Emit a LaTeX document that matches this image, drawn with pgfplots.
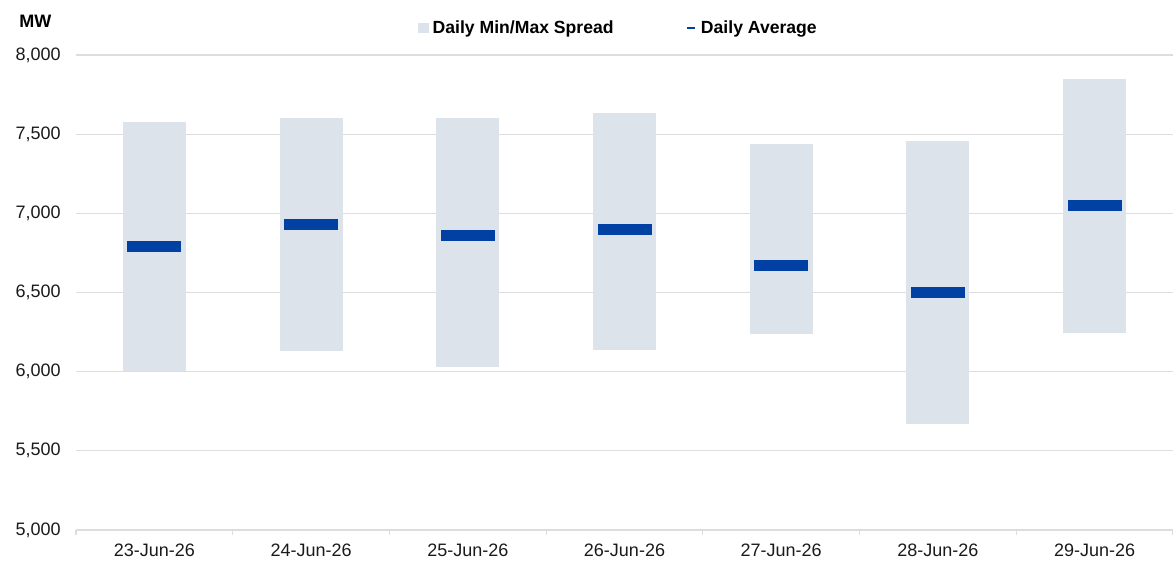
\documentclass[border=0pt]{standalone}
\usepackage{pgfplots}
\pgfplotsset{compat=1.18}
\usepackage{pgfplotstable}
\usepackage{fontspec}
\setmainfont{Liberation Sans}
\definecolor{spreadfill}{HTML}{DCE3EA}
\definecolor{avgblue}{HTML}{0041A3}
\definecolor{gridgray}{HTML}{DDDDDD}
\definecolor{ticktext}{HTML}{1A1A1A}

\pgfplotstableread{
x min max avg
0 6002 7576 6789
1 6132 7603 6928
2 6031 7603 6858
3 6137 7635 6896
4 6239 7441 6669
5 5668 7460 6500
6 6244 7851 7049
}\datatable

\begin{document}
\begin{tikzpicture}[font=\fontsize{13.5}{16}\selectfont]
\begin{axis}[
  scale only axis,
  width=822.75pt, height=356.25pt,
  xmin=-0.5, xmax=6.5,
  ymin=5000, ymax=8000,
  ytick={5000,5500,...,8000},
  xtick={0,...,6},
  xticklabels={23-Jun-26,24-Jun-26,25-Jun-26,26-Jun-26,27-Jun-26,28-Jun-26,29-Jun-26},
  minor xtick={-0.5,0.5,...,6.5},
  axis x line*=bottom,
  axis y line*=left,
  x axis line style={draw=gridgray, line width=0.9pt},
  y axis line style={draw=none},
  ymajorgrids,
  grid style={draw=gridgray, line width=0.9pt},
  major tick length=0pt,
  minor tick length=3.75pt,
  tick align=outside,
  minor tick style={draw=gridgray, line width=0.9pt},
  ytick style={draw=none},
  tick label style={font=\fontsize{13.5}{16}\selectfont, text=ticktext},
  yticklabel style={inner sep=0pt, xshift=-11.25pt},
  xticklabel style={inner sep=0pt, yshift=-10.5pt},
  /pgf/number format/.cd, 1000 sep={,}, assume math mode=true,
  /pgfplots/.cd,
  clip=false,
  legend columns=2,
  legend style={
    at={(0.3118,1)}, anchor=west, yshift=20.25pt,
    draw=none, fill=none, inner sep=0pt,
    font=\bfseries\fontsize{13.2}{16}\selectfont,
    nodes={inner sep=0pt, anchor=west},
    /tikz/every odd column/.append style={column sep=3.4pt},
    /tikz/every even column/.append style={column sep=54.5pt},
  },
]
\addplot[forget plot, draw=none, mark=none,
  error bars/.cd, y dir=plus, y explicit,
  error mark=none,
  error bar style={line width=47.25pt, draw=spreadfill}]
  table[x=x, y=min, y error plus expr=\thisrow{max}-\thisrow{min}] {\datatable};
\addplot[forget plot, only marks, mark=-, mark size=20.25pt,
  mark options={line width=8.25pt, draw=avgblue}]
  table[x=x, y=avg] {\datatable};
\addlegendimage{legend image code/.code={\fill[spreadfill] (0pt,-3.4pt) rectangle (7pt,3.4pt);}}
\addlegendentry{Daily Min/Max Spread}
\addlegendimage{legend image code/.code={\draw[avgblue, line width=1.6pt] (0pt,0pt) -- (6pt,0pt);}}
\addlegendentry{Daily Average}
\end{axis}
\node[anchor=west, font=\bfseries\fontsize{13.5}{16}\selectfont, inner sep=0pt]
  at ([xshift=-42.75pt, yshift=25.5pt]current axis.north west) {MW};
\pgfresetboundingbox
\path[use as bounding box] ([xshift=-57pt,yshift=-24pt]current axis.south west) rectangle ([yshift=41.25pt]current axis.north east);
\end{tikzpicture}
\end{document}
